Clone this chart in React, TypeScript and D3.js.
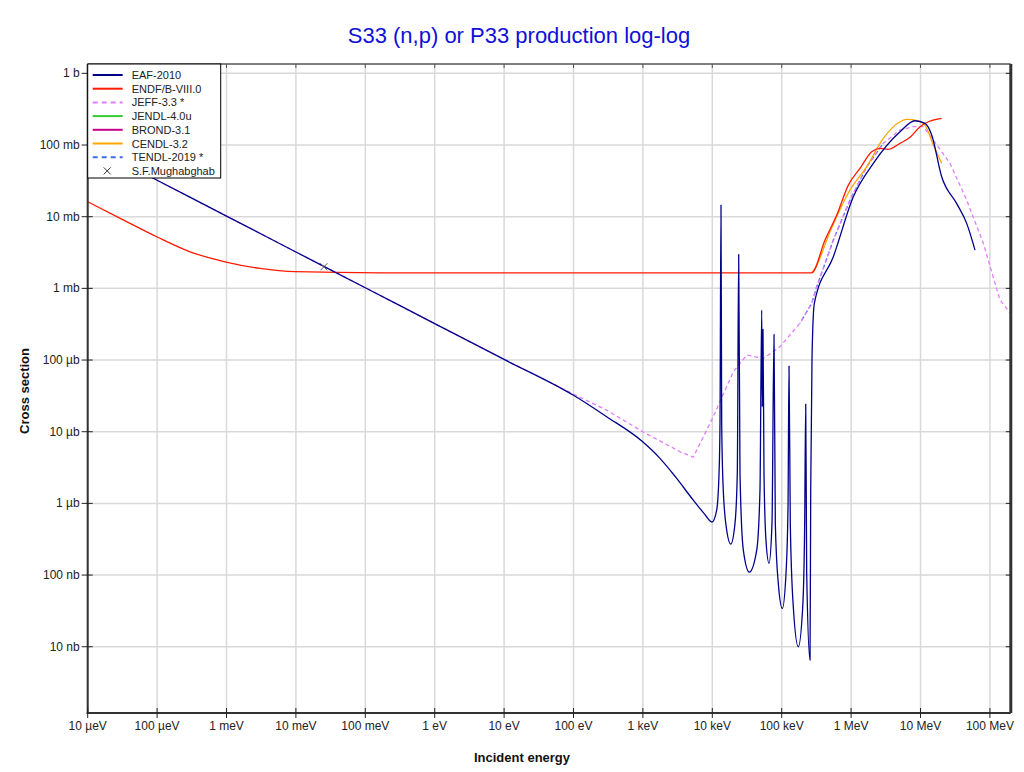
import React from "react";
import * as d3 from "d3";

// ---------- data (energies in eV, cross sections in barns) ----------
const xTickValues = [1e-5, 1e-4, 1e-3, 1e-2, 1e-1, 1, 10, 100, 1e3, 1e4, 1e5, 1e6, 1e7, 1e8];
const xTickLabels = ["10 µeV", "100 µeV", "1 meV", "10 meV", "100 meV", "1 eV", "10 eV", "100 eV", "1 keV", "10 keV", "100 keV", "1 MeV", "10 MeV", "100 MeV"];
const yTickValues = [1, 0.1, 0.01, 1e-3, 1e-4, 1e-5, 1e-6, 1e-7, 1e-8];
const yTickLabels = ["1 b", "100 mb", "10 mb", "1 mb", "100 µb", "10 µb", "1 µb", "100 nb", "10 nb"];

const eafE = [1e-5, 1e-4, 1e-3, 1e-2, 0.1, 1, 10, 100, 300, 993, 1762, 2931, 5321, 7586, 9900,
  11560, 12500, 12910, 13340, 13650, 14390, 16110, 18410, 21230, 22910, 23990, 25060, 27990, 34120,
  43650, 48640, 51520, 52480, 53700, 55590, 59290, 65610, 72440, 77450, 80910, 89330, 102100,
  115300, 123300, 127400, 133000, 146900, 173400, 200900, 214300, 221800, 229100, 255900, 261800,
  273500, 295100, 554600, 1.076e6, 2.089e6, 5.07e6, 8.32e6, 1.161e7, 1.449e7, 2.018e7, 3.31e7, 4.63e7, 6.1e7];
const eafS = [0.102, 0.0322, 0.0102, 3.22e-3, 1.02e-3, 3.22e-4, 1.02e-4, 3.22e-5, 1.62e-5, 7.24e-6, 4.25e-6, 2.36e-6, 1.11e-6, 7.26e-7, 5.5e-7,
  8.07e-7, 2.62e-6, 1.31e-5, 0.01452, 1.31e-5, 1.53e-6, 4.25e-7, 2.7e-7, 5.26e-7, 2.62e-6, 2.98e-3, 2.62e-6, 2.23e-7, 1.1e-7,
  2.23e-7, 1.53e-6, 4.98e-4, 2.23e-5, 2.68e-4, 2.62e-6, 3.08e-7, 1.46e-7, 5.26e-7, 2.28e-4, 5.26e-7, 7.66e-8, 3.43e-8,
  1.05e-7, 8.97e-7, 8.24e-5, 5.26e-7, 3.61e-8, 1.0e-8, 3.61e-8, 5.26e-7, 2.43e-5, 1.05e-7, 6.52e-9, 1.53e-6,
  1.11e-4, 6.18e-4, 2.76e-3, 0.01897, 0.0555, 0.153, 0.218, 0.2, 0.138, 0.0361, 0.01535, 8.07e-3, 3.42e-3];

const endfE = [1e-5, 3.09e-5, 9.86e-5, 2.98e-4, 9.5e-4, 3.04e-3, 9.7e-3, 0.164, 2.7e5, 4.21e5, 6.21e5, 9.12e5,
  1.343e6, 1.98e6, 2.61e6, 3.44e6, 5.07e6, 7.06e6, 9.84e6, 1.297e7, 2.018e7];
const endfS = [0.01614, 9.27e-3, 5.25e-3, 3.24e-3, 2.35e-3, 1.9e-3, 1.71e-3, 1.65e-3, 1.65e-3, 4.72e-3, 0.01054, 0.0276,
  0.0472, 0.0805, 0.0897, 0.0871, 0.1054, 0.128, 0.18, 0.211, 0.236];

const cendlE = [2.7e5, 3.02e5, 4.97e5, 9.64e5, 1.679e6, 2.91e6, 5.07e6, 6.32e6, 9.29e6, 1.161e7, 1.531e7, 2.018e7];
const cendlS = [1.65e-3, 1.9e-3, 6.17e-3, 0.0236, 0.0498, 0.124, 0.211, 0.228, 0.218, 0.19, 0.1, 0.0555];

const jeffE = [1e-5, 1e-4, 1e-3, 1e-2, 0.1, 1, 10, 100, 300, 993, 3430, 5320, 10330, 20090, 31330, 54330, 94410,
  183700, 270400, 319200, 554600, 963900, 1.679e6, 2.91e6, 5.07e6, 7.89e6, 1.099e7, 1.531e7, 2.66e7, 4.63e7, 8.04e7, 1.396e8, 2.17e8];
const jeffS = [0.102, 0.0322, 0.0102, 3.22e-3, 1.02e-3, 3.22e-4, 1.02e-4, 3.35e-5, 2.0e-5, 1.0e-5, 5.25e-6, 4.43e-6, 1.62e-5, 6.85e-5, 1.175e-4, 1.054e-4, 1.53e-4,
  3.28e-4, 6.18e-4, 1.054e-3, 4.72e-3, 0.01706, 0.0498, 0.1054, 0.162, 0.18, 0.18, 0.117, 0.0555, 0.01706, 4.25e-3, 6.87e-4, 4.02e-4];

const tendlE = [183700, 270400, 319200, 554600, 963900, 1.679e6, 2.91e6];
const tendlS = [3.28e-4, 6.18e-4, 1.054e-3, 4.72e-3, 0.01706, 0.0498, 0.1054];

const mughE = [0.0253];
const mughS = [2.0e-3];

const legendNames = ["EAF-2010", "ENDF/B-VIII.0", "JEFF-3.3 *", "JENDL-4.0u", "BROND-3.1", "CENDL-3.2", "TENDL-2019 *", "S.F.Mughabghab"];
const legendColors = ["#00008b", "#ff1a00", "#e27dff", "#33cc33", "#c8008c", "#ffa500", "#3a6cf0", "#333333"];
const legendDashed = [false, false, true, false, false, false, true, false];

const zip = (a: number[], b: number[]) => a.map((v, i) => [v, b[i]] as [number, number]);

export default function App() {
  const W = 1024, H = 772;
  const left = 87.7, right = 1010.8, top = 64, bottom = 713;
  const x = d3.scaleLog().domain([1e-5, 2e8]).range([left, right]);
  const y = d3.scaleLog().domain([1.19e-9, 1.35]).range([bottom, top]);
  const lineLin = d3.line<[number, number]>().x((d) => x(d[0])).y((d) => y(d[1]));
  const lineSmooth = d3.line<[number, number]>().x((d) => x(d[0])).y((d) => y(d[1])).curve(d3.curveMonotoneX);
  const font = "'Liberation Sans', Arial, sans-serif";

  const series = [
    { d: zip(tendlE, tendlS), c: legendColors[6], dash: "4,3", off: 3.5, smooth: false },
    { d: zip(jeffE, jeffS), c: legendColors[2], dash: "4,3", off: 0, smooth: false },
    { d: zip(cendlE, cendlS), c: legendColors[5], dash: null, off: 0, smooth: true },
    { d: zip(endfE, endfS), c: legendColors[1], dash: null, off: 0, smooth: true },
    { d: zip(eafE, eafS), c: legendColors[0], dash: null, off: 0, smooth: true },
  ];

  const lgX = left, lgY = top, lgW = 133, lgH = 114;

  return (
    <svg width={W} height={H} style={{ position: "absolute", left: 0, top: 0, background: "#fff" }} fontFamily={font}>
      <defs>
        <clipPath id="plot">
          <rect x={left} y={top} width={right - left} height={bottom - top} />
        </clipPath>
      </defs>
      <rect x={0} y={0} width={W} height={H} fill="#fff" />
      <text x={519} y={43} textAnchor="middle" fontSize={22} fill="#1010d8">S33 (n,p) or P33 production log-log</text>

      {/* grid */}
      {xTickValues.map((v, i) => (
        <line key={"gx" + i} x1={x(v)} x2={x(v)} y1={top} y2={bottom} stroke="#d9d9d9" strokeWidth={1.5} />
      ))}
      {yTickValues.map((v, i) => (
        <line key={"gy" + i} x1={left} x2={right} y1={y(v)} y2={y(v)} stroke="#d9d9d9" strokeWidth={1.5} />
      ))}

      {/* series */}
      <g clipPath="url(#plot)">
        {series.map((s, i) => (
          <path key={"s" + i} d={(s.smooth ? lineSmooth(s.d) : lineLin(s.d)) || ""} fill="none" stroke={s.c} strokeWidth={1.3}
            strokeDasharray={s.dash || undefined} strokeDashoffset={s.off} strokeLinejoin="round" />
        ))}
        {mughE.map((e, i) => {
          const cx = x(e), cy = y(mughS[i]);
          return (
            <g key={"m" + i} stroke="#555" strokeWidth={1}>
              <line x1={cx - 3.5} y1={cy - 3.5} x2={cx + 3.5} y2={cy + 3.5} />
              <line x1={cx - 3.5} y1={cy + 3.5} x2={cx + 3.5} y2={cy - 3.5} />
            </g>
          );
        })}
      </g>

      {/* frame */}
      <line x1={left} x2={right} y1={top} y2={top} stroke="#000" strokeWidth={1} />
      <line x1={right} x2={right} y1={top} y2={bottom} stroke="#333" strokeWidth={3} />
      <line x1={left} x2={left} y1={top} y2={bottom + 1} stroke="#333" strokeWidth={2} />
      <line x1={left - 1} x2={right} y1={bottom} y2={bottom} stroke="#333" strokeWidth={2} />

      {/* ticks */}
      {xTickValues.map((v, i) => (
        <g key={"tx" + i}>
          <line x1={x(v)} x2={x(v)} y1={bottom - 5} y2={bottom + 5} stroke="#222" strokeWidth={1} />
          <line x1={x(v)} x2={x(v)} y1={top} y2={top + 4} stroke="#555" strokeWidth={1} />
          <text x={x(v)} y={bottom + 17} textAnchor="middle" fontSize={12} fill="#222">{xTickLabels[i]}</text>
        </g>
      ))}
      {yTickValues.map((v, i) => (
        <g key={"ty" + i}>
          <line x1={left - 6} x2={left + 5} y1={y(v)} y2={y(v)} stroke="#222" strokeWidth={1} />
          <line x1={right - 5} x2={right} y1={y(v)} y2={y(v)} stroke="#222" strokeWidth={1} />
          <text x={left - 8} y={y(v) + 4} textAnchor="end" fontSize={12} fill="#222">{yTickLabels[i]}</text>
        </g>
      ))}

      <text x={522} y={762} textAnchor="middle" fontSize={13} fontWeight="bold" fill="#111">Incident energy</text>
      <text transform="translate(29,391) rotate(-90)" textAnchor="middle" fontSize={13} fontWeight="bold" fill="#111">Cross section</text>

      {/* legend */}
      <rect x={lgX} y={lgY} width={lgW} height={lgH} fill="#fff" stroke="#000" strokeWidth={1} />
      {legendNames.map((name, i) => {
        const ry = lgY + 11 + i * 13.7;
        return (
          <g key={"lg" + i}>
            {i < 7 ? (
              <line x1={lgX + 5} x2={lgX + 35} y1={ry} y2={ry} stroke={legendColors[i]} strokeWidth={2}
                strokeDasharray={legendDashed[i] ? "5,4" : undefined} />
            ) : (
              <g stroke="#333" strokeWidth={1}>
                <line x1={lgX + 16} y1={ry - 3.5} x2={lgX + 23} y2={ry + 3.5} />
                <line x1={lgX + 16} y1={ry + 3.5} x2={lgX + 23} y2={ry - 3.5} />
              </g>
            )}
            <text x={lgX + 44} y={ry + 4} fontSize={11} fill="#222">{name}</text>
          </g>
        );
      })}
    </svg>
  );
}
